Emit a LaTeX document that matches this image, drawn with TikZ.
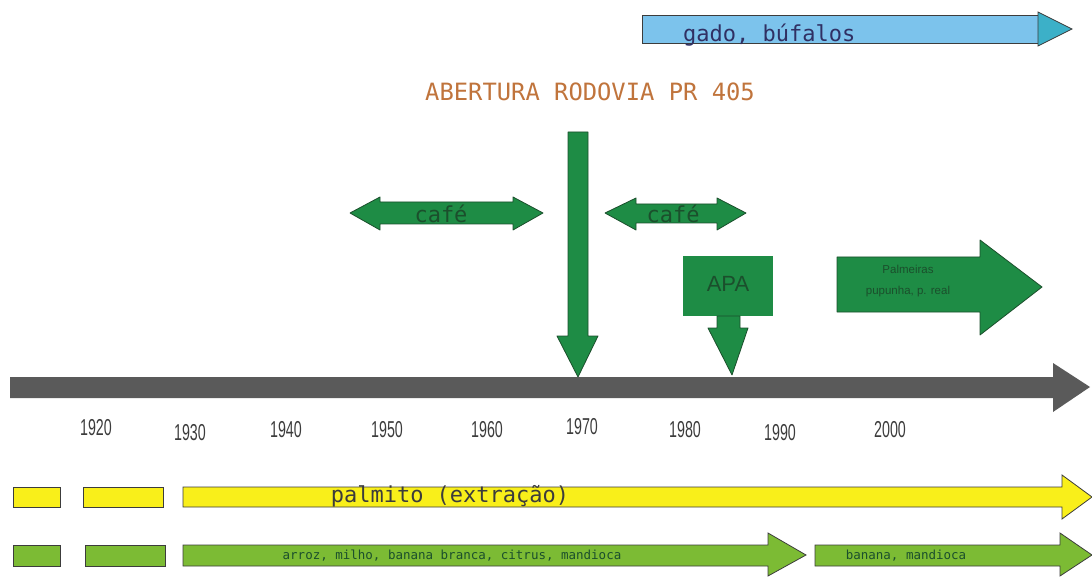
\documentclass[tikz,border=0pt]{standalone}
\usepackage{fontspec}
\setmainfont{Liberation Sans}
\newfontfamily\techfont{DejaVu Sans Mono}
\newfontfamily\yearfont[FakeStretch=0.62]{Liberation Sans}

\definecolor{cafegreen}{HTML}{1E8C45}
\definecolor{edgegreen}{HTML}{1B4F2C}
\definecolor{skyblue}{HTML}{7CC3EC}
\definecolor{tealhead}{HTML}{3CB0C8}
\definecolor{axisgray}{HTML}{5A5A5A}
\definecolor{palmyellow}{HTML}{F9EF1A}
\definecolor{cropgreen}{HTML}{7CBB34}
\definecolor{roadorange}{HTML}{C0743C}
\definecolor{edgedark}{HTML}{3C3C3C}

\tikzset{
  darkarrow/.style={fill=cafegreen, draw=edgegreen, line width=0.8pt, line join=round},
  bluebar/.style={fill=skyblue, draw=edgedark, line width=0.8pt},
  yellowbar/.style={fill=palmyellow, draw=edgedark, line width=0.8pt},
  greenbar/.style={fill=cropgreen, draw=edgedark, line width=0.8pt},
  techtext/.style={font=\techfont\fontsize{22}{24}\selectfont, inner sep=0pt},
  smalltext/.style={font=\techfont\fontsize{12.5}{14}\selectfont, text=edgegreen, inner sep=0pt},
  yeartext/.style={font=\yearfont\fontsize{23}{25}\selectfont, text=edgedark, inner sep=0pt}
}

\begin{document}
\begin{tikzpicture}[x=1pt, y=-1pt]
    \useasboundingbox (0,0) rectangle (1092,577);

    %gado
    \draw[bluebar] (642,15) rectangle (1040,43);
    \draw[fill=tealhead, draw=edgedark, line width=0.8pt] (1038,12)--(1072,29)--(1038,46)--cycle;
    \node[techtext, text=edgedark!80!blue, anchor=west] (gado) at (683,35) {gado, búfalos};

    %rodovia
    \node[techtext, font=\techfont\fontsize{23.8}{26}\selectfont, text=roadorange] (rodovia) at (590,92) {ABERTURA RODOVIA PR 405};
    \draw[darkarrow] (568,132)--(588,132)--(588,336)--(598,336)--(578,377)--(557,336)--(568,336)--cycle;

    %cafe
    \draw[darkarrow] (350,213)--(380,197)--(380,202)--(513,202)--(513,197)--(543,213)--(513,230)--(513,224)--(380,224)--(380,230)--cycle;
    \node[techtext, text=edgegreen] (cafe1) at (441,214) {café};
    \draw[darkarrow] (605,213)--(636,198)--(636,204)--(717,204)--(717,198)--(746,213)--(717,230)--(717,223)--(636,223)--(636,230)--cycle;
    \node[techtext, text=edgegreen] (cafe2) at (673,214) {café};

    %APA
    \draw[fill=cafegreen, draw=none] (683,256) rectangle (773,316);
    \node[font=\fontsize{22}{24}\selectfont, text=edgegreen, inner sep=0pt] (apa) at (728,284) {APA};
    \draw[darkarrow] (717,316)--(740,316)--(740,328)--(748,328)--(732,375)--(708,328)--(717,328)--cycle;

    %palmeiras
    \draw[darkarrow] (837,257)--(980,257)--(980,240)--(1042,287)--(980,335)--(980,312)--(837,312)--cycle;
    \node[font=\fontsize{11.5}{21}\selectfont, text=edgegreen, align=center, inner sep=0pt] (palmeiras) at (908,281) {Palmeiras\\pupunha, p. real};

    %asse
    \draw[fill=axisgray, draw=none] (10,377)--(1053,377)--(1053,363)--(1090,387)--(1053,412)--(1053,398)--(10,398)--cycle;
    \foreach \yr/\px/\py in {1920/96/428, 1930/190/433, 1940/286/430, 1950/387/430, 1960/487/430, 1970/582/427, 1980/685/430, 1990/780/433, 2000/890/430}
        \node[yeartext] (y\yr) at (\px,\py) {\yr};

    %palmito
    \draw[yellowbar] (13,487) rectangle (60,507);
    \draw[yellowbar] (83,487) rectangle (163,507);
    \draw[yellowbar] (183,487)--(1062,487)--(1062,475)--(1092,497)--(1062,519)--(1062,507)--(183,507)--cycle;
    \node[techtext, text=edgedark] (palmito) at (450,496) {palmito (extração)};

    %culturas
    \draw[greenbar] (13,545) rectangle (60,566);
    \draw[greenbar] (85,545) rectangle (165,566);
    \draw[greenbar] (183,545)--(768,545)--(768,533)--(806,555)--(768,576)--(768,566)--(183,566)--cycle;
    \node[smalltext] (arroz) at (452,556) {arroz, milho, banana branca, citrus, mandioca};
    \draw[greenbar] (815,545)--(1060,545)--(1060,533)--(1092,555)--(1060,576)--(1060,566)--(815,566)--cycle;
    \node[smalltext] (banana) at (906,556) {banana, mandioca};

\end{tikzpicture}
\end{document}
